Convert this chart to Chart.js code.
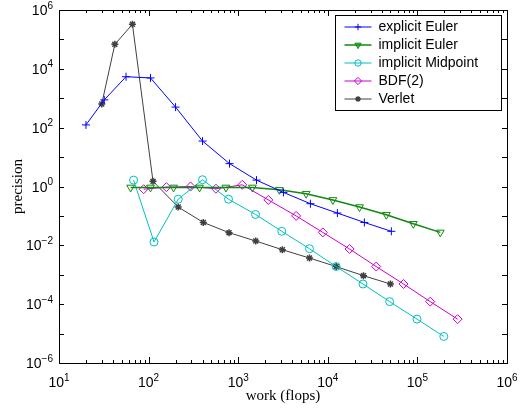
<!DOCTYPE html>
<html>
<head>
<meta charset="utf-8">
<script src="https://cdn.jsdelivr.net/npm/chart.js@4.4.0/dist/chart.umd.min.js"></script>
<style>
  html, body { margin: 0; padding: 0; background: #fff; }
  canvas { display: block; }
</style>
</head>
<body>
<canvas id="precChart" width="527" height="412" style="width:527px;height:412px"></canvas>
<script>
// values (log-log)
const seriesNames = ['explicit Euler', 'implicit Euler', 'implicit Midpoint', 'BDF(2)', 'Verlet'];

const explEulerX = [20, 32, 56, 105, 200, 400, 800, 1600, 3200, 6400, 12800, 25600, 51200];
const explEulerY = [124, 880, 5400, 4900, 500, 35, 6, 1.65, 0.63, 0.26, 0.125, 0.06, 0.03];

const implEulerX = [63, 105, 190, 370, 730, 1440, 2880, 5730, 11400, 22600, 45000, 90000, 180000];
const implEulerY = [0.93, 0.93, 0.93, 0.93, 0.93, 0.93, 0.77, 0.57, 0.35, 0.2, 0.11, 0.054, 0.0275];

const midpointX = [68, 115, 214, 400, 780, 1560, 3060, 6240, 12400, 24700, 49000, 99000, 197000];
const midpointY = [1.65, 0.013, 0.37, 1.7, 0.37, 0.112, 0.03, 0.0077, 0.0019, 4.85e-4, 1.22e-4, 3.1e-5, 8e-6];

const bdf2X = [88, 158, 294, 565, 1110, 2170, 4430, 8800, 17500, 34700, 70000, 139000, 281000];
const bdf2Y = [0.81, 0.95, 1.0, 0.84, 1.14, 0.35, 0.1, 0.0275, 0.0075, 0.0019, 4.85e-4, 1.22e-4, 3.1e-5];

const verletX = [30, 42, 66, 112, 214, 408, 790, 1570, 3110, 6240, 12400, 25000, 50000];
const verletY = [640, 68000, 326000, 1.5, 0.2, 0.06, 0.027, 0.014, 0.0071, 0.0037, 0.0019, 9.3e-4, 4.85e-4];

const xDecades = [1, 2, 3, 4, 5, 6];
const yDecades = [-6, -5, -4, -3, -2, -1, 0, 1, 2, 3, 4, 5, 6];
const yLabelled = [-6, -4, -2, 0, 2, 4, 6];

const pts = (xs, ys) => xs.map((v, i) => ({x: v, y: ys[i]}));

const tickFont = '"Liberation Sans", Arial, Helvetica, sans-serif';

function series(label, xs, ys, color, style, radius, extra) {
  return Object.assign({
    label: label,
    data: pts(xs, ys),
    borderColor: color,
    backgroundColor: 'rgba(0,0,0,0)',
    borderWidth: 1,
    pointStyle: style,
    pointRadius: radius,
    pointBorderColor: color,
    pointBackgroundColor: 'rgba(0,0,0,0)',
    pointBorderWidth: 1,
    tension: 0,
    fill: false,
    legendFill: 'rgba(0,0,0,0)'
  }, extra || {});
}

const datasets = [
  series(seriesNames[0], explEulerX, explEulerY, '#0000ff', 'cross', 4),
  series(seriesNames[1], implEulerX, implEulerY, '#118811', 'triangle', 4.5,
    {borderWidth: 1.5, pointRotation: 180, legendFill: 'rgba(17,136,17,0.55)'}),
  series(seriesNames[2], midpointX, midpointY, '#00bfbf', 'circle', 4),
  series(seriesNames[3], bdf2X, bdf2Y, '#cc00cc', 'rectRot', 4.5),
  series(seriesNames[4], verletX, verletY, '#404040', 'star', 3.5, {pointBorderWidth: 1.5})
];

function powLabel(ctx, e, x, y, align) {
  const base = '10';
  const exp = e < 0 ? '\u2212' + (-e) : String(e);
  ctx.font = '14px ' + tickFont;
  const wb = ctx.measureText(base).width;
  ctx.font = '10px ' + tickFont;
  const we = ctx.measureText(exp).width;
  let x0 = align === 'right' ? x - wb - we : x - (wb + we) / 2;
  ctx.textAlign = 'left';
  ctx.textBaseline = 'alphabetic';
  ctx.font = '14px ' + tickFont;
  ctx.fillText(base, x0, y);
  ctx.font = '10px ' + tickFont;
  ctx.fillText(exp, x0 + wb, y - 6.5);
}

const axisDecor = {
  id: 'axisDecor',
  afterDraw(chart) {
    const {ctx, chartArea: a, scales: {x, y}} = chart;
    ctx.save();
    ctx.strokeStyle = '#000';
    ctx.fillStyle = '#000';
    ctx.lineWidth = 1;

    // frame
    ctx.strokeRect(Math.round(a.left) + 0.5, Math.round(a.top) + 0.5,
      Math.round(a.right - a.left), Math.round(a.bottom - a.top));

    // x ticks (inward, top and bottom)
    ctx.beginPath();
    x.ticks.forEach(t => {
      const px = Math.round(x.getPixelForValue(t.value)) + 0.5;
      const len = t.major ? 6 : 3;
      ctx.moveTo(px, a.bottom); ctx.lineTo(px, a.bottom - len);
      ctx.moveTo(px, a.top); ctx.lineTo(px, a.top + len);
    });
    // y ticks (every decade, left and right)
    y.ticks.forEach(t => {
      const py = Math.round(y.getPixelForValue(t.value)) + 0.5;
      ctx.moveTo(a.left, py); ctx.lineTo(a.left + 5, py);
      ctx.moveTo(a.right, py); ctx.lineTo(a.right - 5, py);
    });
    ctx.stroke();

    // tick labels with superscript exponents
    xDecades.forEach(e => {
      powLabel(ctx, e, x.getPixelForValue(Math.pow(10, e)), a.bottom + 24, 'center');
    });
    yLabelled.forEach(e => {
      powLabel(ctx, e, a.left - 6, y.getPixelForValue(Math.pow(10, e)) + 5, 'right');
    });

    // legend box
    const lx = 335.5, ly = 15.5, lw = 166, lh = 95, row = 18;
    ctx.fillStyle = '#fff';
    ctx.fillRect(lx, ly, lw, lh);
    ctx.strokeStyle = '#000';
    ctx.strokeRect(lx, ly, lw, lh);
    chart.data.datasets.forEach((ds, i) => {
      const cy = ly + 11.5 + i * row;
      ctx.strokeStyle = ds.borderColor;
      ctx.lineWidth = ds.borderWidth;
      ctx.beginPath();
      ctx.moveTo(lx + 9, cy); ctx.lineTo(lx + 36, cy);
      ctx.stroke();
      ctx.lineWidth = ds.pointBorderWidth;
      ctx.fillStyle = ds.legendFill;
      Chart.helpers.drawPoint(ctx, {
        pointStyle: ds.pointStyle,
        rotation: ds.pointRotation || 0,
        radius: ds.pointRadius * 0.8,
        borderWidth: ds.pointBorderWidth
      }, lx + 22.5, cy);
      ctx.fillStyle = '#000';
      ctx.font = '14px ' + tickFont;
      ctx.textAlign = 'left';
      ctx.textBaseline = 'middle';
      ctx.fillText(ds.label, lx + 43, cy + 0.5);
    });
    ctx.restore();
  }
};

new Chart(document.getElementById('precChart'), {
  type: 'line',
  data: { datasets: datasets },
  options: {
    responsive: false,
    animation: false,
    layout: { padding: { left: 0, right: 20, top: 10, bottom: 0 } },
    plugins: {
      legend: { display: false },
      tooltip: { enabled: false }
    },
    scales: {
      x: {
        type: 'logarithmic',
        min: 10,
        max: 1e6,
        afterBuildTicks: (scale) => {
          const ticks = [];
          xDecades.forEach(e => {
            ticks.push({value: Math.pow(10, e), major: true});
            if (e < 6) {
              for (let m = 2; m <= 9; m++) ticks.push({value: m * Math.pow(10, e), major: false});
            }
          });
          scale.ticks = ticks;
        },
        afterFit: (scale) => { scale.height = 49; },
        ticks: { display: false },
        grid: { display: false },
        border: { display: false },
        title: {
          display: true,
          text: 'work (flops)',
          color: '#000',
          font: { family: '"Liberation Serif", "Times New Roman", serif', size: 15 },
          padding: { top: 0, bottom: 7 }
        }
      },
      y: {
        type: 'logarithmic',
        min: 1e-6,
        max: 1e6,
        afterBuildTicks: (scale) => {
          scale.ticks = yDecades.map(e => ({value: Math.pow(10, e), major: true}));
        },
        afterFit: (scale) => { scale.width = 59; },
        ticks: { display: false },
        grid: { display: false },
        border: { display: false },
        title: {
          display: true,
          text: 'precision',
          color: '#000',
          font: { family: '"Liberation Serif", "Times New Roman", serif', size: 15 },
          padding: { top: 9, bottom: 0 }
        }
      }
    }
  },
  plugins: [axisDecor]
});
</script>
</body>
</html>
